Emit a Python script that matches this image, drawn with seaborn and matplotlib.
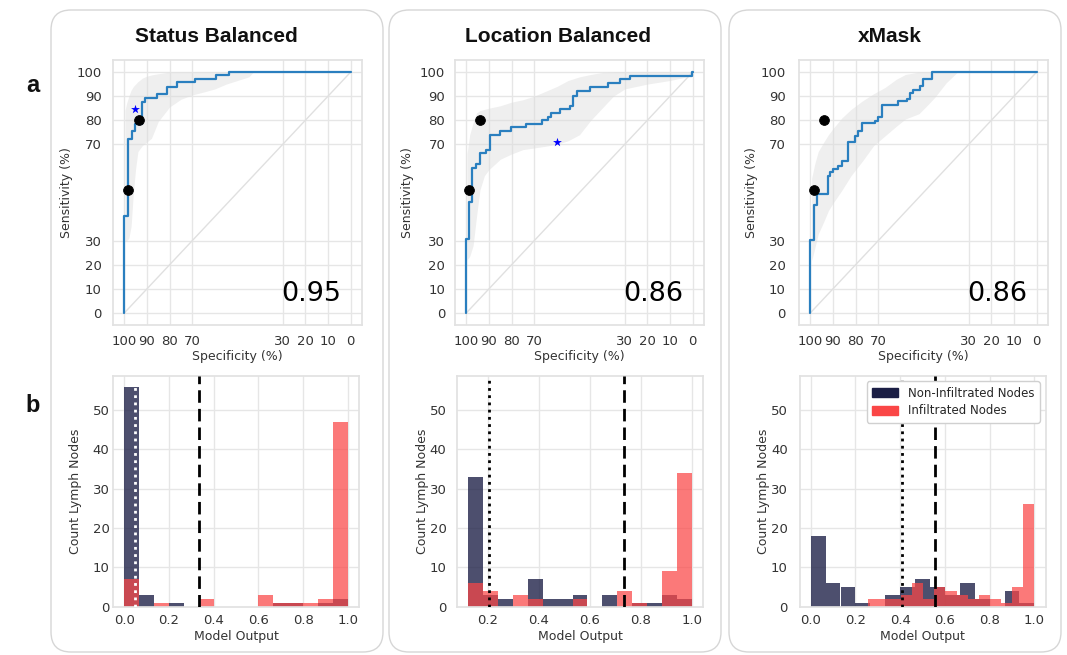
import numpy as np
import matplotlib
matplotlib.use("Agg")
import matplotlib.pyplot as plt
import seaborn as sns
from matplotlib.patches import FancyBboxPatch, Patch
from matplotlib.transforms import IdentityTransform
from matplotlib.ticker import MultipleLocator

# ---------------- data ----------------
titles = ["Status Balanced", "Location Balanced", "xMask"]
auc_labels = ["0.95", "0.86", "0.86"]
row_letters = ["a", "b"]

roc_ticks = [0, 10, 20, 30, 70, 80, 90, 100]
chance = [0, 100]

# ROC step curves: specificity (%) / sensitivity (%)
roc1_spec = [100, 100, 98.2, 96.8, 95.3, 92.4, 90.9, 85.7, 81.3, 76.9, 68.8, 59.6, 53.7, 0]
roc1_sens = [0, 40.4, 72.3, 75.7, 78.6, 87.6, 89.2, 90.9, 94.0, 95.7, 97.2, 98.6, 100, 100]

roc2_spec = [100, 100, 98.8, 97.5, 95.9, 94.1, 91.2, 89.7, 85.3, 80.1, 73.5, 66.4, 63.9, 62.4,
             58.7, 54.3, 52.8, 51.3, 45.4, 37.3, 32.2, 27.7, 0.4, 0]
roc2_sens = [0, 30.7, 45.9, 60.2, 62.0, 66.4, 67.8, 74.0, 75.5, 77.2, 78.5, 80.0, 81.4, 83.0,
             84.6, 86.0, 90.0, 92.0, 94.0, 95.5, 97.0, 98.5, 100, 100]

roc3_spec = [100, 100, 98.4, 96.9, 92.3, 91.3, 89.8, 87.9, 85.9, 83.5, 80.3, 78.8, 77.3, 71.4,
             70.3, 68.5, 61.1, 57.4, 56.0, 54.5, 51.5, 50.1, 46.4, 0]
roc3_sens = [0, 30.4, 45.0, 49.4, 57.0, 58.4, 59.8, 61.1, 63.2, 70.8, 73.6, 75.7, 78.7, 79.8,
             81.2, 86.4, 87.8, 88.8, 91.1, 92.5, 94.3, 97.1, 100, 100]

# confidence bands
band1_spec = [99.7, 99, 98, 97, 96, 95, 94, 92, 90, 88, 85, 80, 75, 70, 65, 60, 55, 50, 45, 43, 0]
band1_lo = [30, 30, 31, 36, 50, 60, 67, 69.5, 71, 72.5, 79.5, 85.5, 88.7, 90.5, 91.7, 93, 95, 96.5, 98, 100, 100]
band1_hi = [84, 87, 90, 92.5, 94, 95, 96, 97.5, 98.3, 98.8, 99.3, 100, 100, 100, 100, 100, 100, 100, 100, 100, 100]

band2_spec = [99.7, 98.5, 97, 95.5, 94, 92, 90, 85, 80, 75, 70, 65, 60, 55, 50, 45, 40, 35, 30, 20, 10, 0]
band2_lo = [22, 23.5, 28, 40, 51, 57, 59.5, 63.8, 66, 67.8, 68.5, 69.2, 70, 71.5, 74, 80, 85, 90, 93, 95, 96.5, 98.5]
band2_hi = [66, 74, 79, 83, 84, 84.5, 85, 86, 87.5, 88.5, 90, 92, 94, 96.5, 98, 99, 99.8, 100, 100, 100, 100, 100]

band3_spec = [99.4, 98, 96.5, 94, 92, 90, 86, 82, 77, 72, 67, 62, 58, 52, 48, 45, 40, 35, 30, 0]
band3_lo = [21.7, 27, 32.8, 38, 42.5, 45.5, 51, 57, 63, 69.5, 73.5, 77.5, 80.5, 82.7, 86.5, 89.5, 95.5, 100, 100, 100]
band3_hi = [56, 62, 67, 71, 74, 76.5, 81, 84.5, 88, 91, 93.6, 97, 99, 100, 100, 100, 100, 100, 100, 100]

# operating points (black dots) and blue stars
dots_spec = [[98.2, 93.5], [98.8, 93.8], [98.5, 93.8]]
dots_sens = [[51, 80], [51, 80], [51, 80]]
star_spec = [[95.1], [60.0], []]
star_sens = [[84.7], [70.8], []]

# histograms (15 bins over each series' range)
hist_bins = 15
neg_range = [(0.0, 1.0), (0.124, 1.0), (0.0, 1.0)]
pos_range = [(0.0, 1.0), (0.124, 1.0), (0.255, 1.0)]
neg1 = [56, 3, 0, 1, 0, 0, 0, 0, 0, 0, 1, 1, 0, 1, 2]
pos1 = [7, 0, 1, 0, 0, 2, 0, 0, 0, 3, 1, 1, 1, 2, 47]
neg2 = [33, 3, 2, 0, 7, 2, 2, 3, 0, 3, 0, 1, 1, 3, 2]
pos2 = [6, 4, 0, 3, 2, 0, 0, 2, 0, 0, 4, 1, 0, 9, 34]
neg3 = [18, 6, 5, 1, 0, 3, 5, 7, 5, 3, 6, 2, 0, 4, 1]
pos3 = [2, 2, 2, 3, 6, 2, 5, 4, 3, 2, 3, 2, 1, 5, 26]

thr_dotted = [0.048, 0.205, 0.41]
thr_dashed = [0.333, 0.736, 0.557]
legend_labels = ["Non-Infiltrated Nodes", "Infiltrated Nodes"]

# ---------------- style ----------------
sns.set_theme(style="whitegrid")
plt.rcParams["font.family"] = ["DejaVu Sans"]
plt.rcParams.update({
    "axes.edgecolor": "#e2e2e2",
    "grid.color": "#e6e6e6",
    "grid.linewidth": 1.0,
    "xtick.labelsize": 9.5,
    "ytick.labelsize": 9.5,
    "axes.labelsize": 9,
    "xtick.color": "#333333",
    "ytick.color": "#333333",
    "axes.labelcolor": "#333333",
})

NAVY = "#1b1e45"
RED = "#fa4646"
CURVE = "#2a7fbf"

W, H = 1067, 655
fig = plt.figure(figsize=(W / 100, H / 100), dpi=100)
fig.patch.set_facecolor("white")


def px_axes(left, top, width, height):
    return fig.add_axes([left / W, 1 - (top + height) / H, width / W, height / H])


# panel boxes (pixel coordinates)
box_x = [51, 389, 729]
box_w = 332
for bx in box_x:
    fig.add_artist(FancyBboxPatch((bx, 3), box_w, 642,
                                  boxstyle="round,pad=0,rounding_size=20",
                                  transform=IdentityTransform(), fill=False,
                                  edgecolor="#d6d6d6", linewidth=1.0, zorder=0))

title_x = [216, 558, 890]
for tx, t in zip(title_x, titles):
    fig.text(tx / W, 1 - 37 / H, t, ha="center", va="center", fontsize=15,
             fontweight="bold", family=["Liberation Sans", "DejaVu Sans"], color="#111111")

fig.text(33 / W, 1 - 85 / H, row_letters[0], ha="center", va="center", fontsize=17,
         fontweight="bold", family=["Liberation Sans", "DejaVu Sans"], color="#111111")
fig.text(33 / W, 1 - 405 / H, row_letters[1], ha="center", va="center", fontsize=17,
         fontweight="bold", family=["Liberation Sans", "DejaVu Sans"], color="#111111")

roc_specs = [roc1_spec, roc2_spec, roc3_spec]
roc_senss = [roc1_sens, roc2_sens, roc3_sens]
band_specs = [band1_spec, band2_spec, band3_spec]
band_los = [band1_lo, band2_lo, band3_lo]
band_his = [band1_hi, band2_hi, band3_hi]
negs = [neg1, neg2, neg3]
poss = [pos1, pos2, pos3]

roc_lefts = [113, 455, 799]
hist_lefts = [113, 457, 799.5]
roc_ypad = [8, 7, 9.5]
hist_ypad = [2.5, 7.5, 8.5]
roc_ylab_x = [-0.185, -0.189, -0.189]
hist_ylab_x = [-0.154, -0.142, -0.148]

for i in range(3):
    # ---------- ROC ----------
    ax = px_axes(roc_lefts[i], 60, 249, 265)
    ax.fill_between(band_specs[i], band_los[i], band_his[i], color="#dcdcdc",
                    alpha=0.45, linewidth=0, zorder=1)
    sns.lineplot(x=chance[::-1], y=chance, ax=ax, color="#e0e0e0", linewidth=1.0,
                 estimator=None, sort=False, zorder=1.5)
    sns.lineplot(x=roc_specs[i], y=roc_senss[i], ax=ax, color=CURVE, linewidth=1.6,
                 estimator=None, sort=False, drawstyle="steps-post", zorder=3)
    sns.scatterplot(x=dots_spec[i], y=dots_sens[i], ax=ax, color="black", s=50,
                    edgecolor="black", zorder=4)
    if star_spec[i]:
        sns.scatterplot(x=star_spec[i], y=star_sens[i], ax=ax, color="blue", s=45,
                        marker="*", edgecolor="blue", linewidth=0, zorder=4)
    ax.set_xlim(105, -5)
    ax.set_ylim(-5, 105)
    ax.set_xticks(roc_ticks)
    ax.set_yticks(roc_ticks)
    ax.set_xticklabels([str(t) for t in roc_ticks])
    ax.set_yticklabels([str(t) for t in roc_ticks])
    ax.set_xlabel("Specificity (%)")
    ax.set_ylabel("Sensitivity (%)")
    ax.xaxis.set_label_coords(0.5, -0.119)
    ax.xaxis.label.set_verticalalignment("center")
    ax.yaxis.set_label_coords(roc_ylab_x[i], 0.5)
    ax.yaxis.label.set_verticalalignment("center")
    ax.tick_params(axis="x", pad=7, length=0)
    ax.tick_params(axis="y", pad=roc_ypad[i], length=0)
    ax.text(4, 5, auc_labels[i], ha="right", va="baseline", fontsize=19.5, color="black")

    # ---------- histogram ----------
    hx = px_axes(hist_lefts[i], 375.5, 246, 231.2)
    ne = list(np.linspace(neg_range[i][0], neg_range[i][1], hist_bins + 1))
    pe = list(np.linspace(pos_range[i][0], pos_range[i][1], hist_bins + 1))
    nc = [(a + b) / 2 for a, b in zip(ne[:-1], ne[1:])]
    pc = [(a + b) / 2 for a, b in zip(pe[:-1], pe[1:])]
    sns.histplot(x=nc, weights=negs[i], bins=ne, ax=hx,
                 color=NAVY, alpha=0.78, linewidth=0)
    sns.histplot(x=pc, weights=poss[i], bins=pe, ax=hx,
                 color=RED, alpha=0.72, linewidth=0)
    hx.axvline(thr_dotted[i], color="white" if i == 0 else "black",
               linestyle=(0, (1, 1.6)), linewidth=2.0, zorder=5)
    hx.axvline(thr_dashed[i], color="black", linestyle=(0, (4.5, 2.2)),
               linewidth=2.0, zorder=5)
    hx.set_ylim(0, 58.8)
    hx.set_yticks([0, 10, 20, 30, 40, 50])
    hx.xaxis.set_major_locator(MultipleLocator(0.2))
    hx.set_xlabel("Model Output")
    hx.set_ylabel("Count Lymph Nodes")
    hx.xaxis.set_label_coords(0.5, -0.129)
    hx.xaxis.label.set_verticalalignment("center")
    hx.yaxis.set_label_coords(hist_ylab_x[i], 0.5)
    hx.yaxis.label.set_verticalalignment("center")
    hx.tick_params(axis="x", pad=5.5, length=0)
    hx.tick_params(axis="y", pad=hist_ypad[i], length=0)
    hx.set_axisbelow(True)
    if i == 2:
        handles = [Patch(color=NAVY), Patch(color=RED)]
        hx.legend(handles, legend_labels, loc="upper right", fontsize=8.5,
                  frameon=True, framealpha=1, edgecolor="#d0d0d0",
                  handlelength=2.2, handleheight=0.8, borderpad=0.45,
                  labelspacing=0.4, fancybox=True)

fig.savefig("out.png", dpi=100, facecolor="white")
